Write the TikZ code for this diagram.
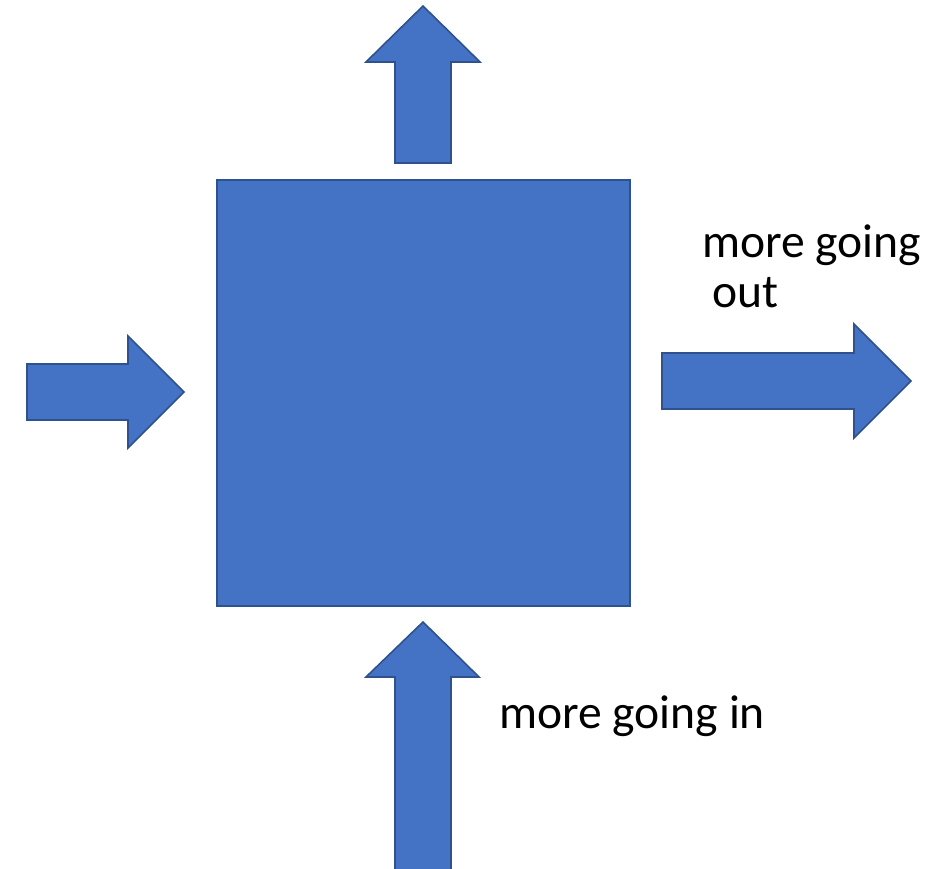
\documentclass[tikz,border=0pt]{standalone}
\usepackage{fontspec}
\setmainfont{Carlito}
\definecolor{boxfill}{HTML}{4472C4}
\definecolor{boxline}{HTML}{2F528F}
\begin{document}
\begin{tikzpicture}[x=1pt,y=-1pt,
  blockshape/.style={fill=boxfill,draw=boxline,line width=1.6pt,line join=miter},
  lbl/.style={inner sep=0pt,anchor=base west,font=\fontsize{47.6pt}{50pt}\selectfont,text=black}]
\useasboundingbox (0,0) rectangle (946,869);
% central square
\node[blockshape,minimum width=413pt,minimum height=426pt,inner sep=0pt,anchor=north west] (sq) at (216,179) {};
% top arrow (out)
\draw[blockshape] (395,163) -- (395,62) -- (366,62) -- (423,6) -- (480,62) -- (451,62) -- (451,163) -- cycle;
% left arrow (in)
\draw[blockshape] (27,364) -- (128,364) -- (128,336) -- (184,392) -- (128,448) -- (128,420) -- (27,420) -- cycle;
% right arrow (out)
\draw[blockshape] (662,353) -- (854,353) -- (854,324) -- (911,381) -- (854,438) -- (854,409) -- (662,409) -- cycle;
% bottom arrow (in)
\draw[blockshape] (395,870) -- (395,677) -- (366,677) -- (423,622) -- (479,677) -- (451,677) -- (451,870) -- cycle;
% labels
\node[lbl] (outA) at (702,258) {more going};
\node[lbl] (outB) at (712,308) {out};
\node[lbl] (inA) at (499,728) {more going in};
\end{tikzpicture}
\end{document}
